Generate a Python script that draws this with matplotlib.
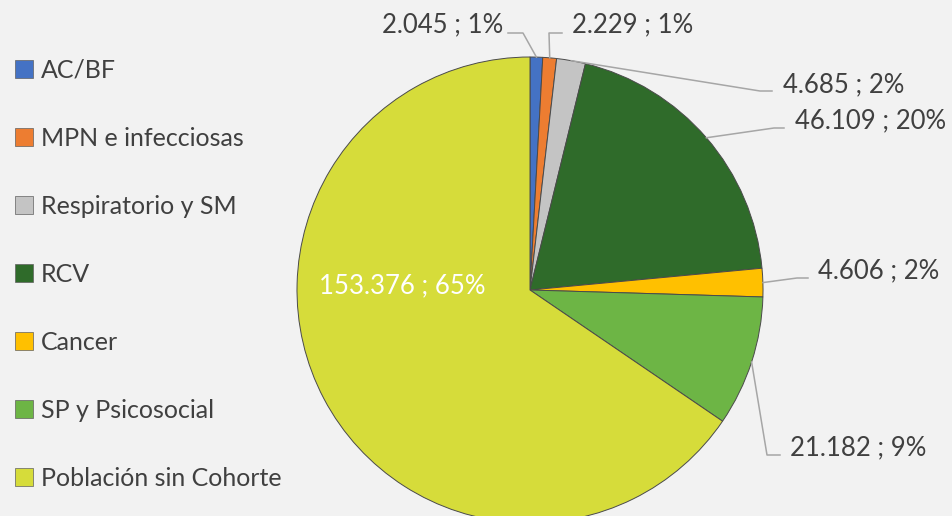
import numpy as np
import matplotlib
matplotlib.use('Agg')
import matplotlib.pyplot as plt
from matplotlib.lines import Line2D

categories = ['AC/BF', 'MPN e infecciosas', 'Respiratorio y SM', 'RCV',
              'Cancer', 'SP y Psicosocial', 'Población sin Cohorte']
values = [2045, 2229, 4685, 46109, 4606, 21182, 153376]
percent_labels = ['1%', '1%', '2%', '20%', '2%', '9%', '65%']
colors = ['#4472C4', '#ED7D31', '#C4C4C4', '#2F6B2A',
          '#FFC000', '#6DB545', '#D6DC3A']

W, H = 953, 516
BG = '#F2F2F2'
TXT = '#404040'
plt.rcParams['font.family'] = ['Lato', 'DejaVu Sans']


def fmt(v):
    return f'{v:,}'.replace(',', '.')


fig = plt.figure(figsize=(W / 100, H / 100), dpi=100, facecolor=BG)
ax = fig.add_axes([0, 0, 1, 1])

cx, cy, r = 530, H - 290, 233
wedges, _ = ax.pie(values, colors=colors, startangle=90, counterclock=False,
                   center=(cx, cy), radius=r, frame=True,
                   wedgeprops=dict(edgecolor='#4a4a4a', linewidth=0.7))
ax.set_xlim(0, W)
ax.set_ylim(0, H)
ax.set_aspect('equal')
ax.axis('off')

# label text position (px, top-left origin) and leader elbow
label_pos = [(443, 25, 'center'), (572, 25, 'left'), (783, 85, 'left'),
             (795, 121, 'left'), (818, 271, 'left'), (790, 448, 'left'),
             (402, 286, 'center')]
elbows = [[(523, 33), (508, 33)], [(549, 33), (562, 33)],
          [(760, 91), (772, 91)], [(774, 128), (784, 128)],
          [(797, 278), (808, 278)], [(767, 455), (780, 455)], None]

FS = 18.5
for i, w in enumerate(wedges):
    text = f'{fmt(values[i])} ; {percent_labels[i]}'
    x, y, ha = label_pos[i]
    if elbows[i] is None:
        ax.text(x, H - y, text, color='white', fontsize=FS, ha=ha, va='center')
        continue
    ang = np.deg2rad((w.theta1 + w.theta2) / 2)
    px, py = cx + r * np.cos(ang), cy + r * np.sin(ang)
    xs = [px] + [e[0] for e in elbows[i]]
    ys = [py] + [H - e[1] for e in elbows[i]]
    ax.add_line(Line2D(xs, ys, color='#A6A6A6', linewidth=1.1))
    ax.text(x, H - y, text, color=TXT, fontsize=FS, ha=ha, va='center')

handles = [Line2D([], [], marker='s', linestyle='none', markersize=12.5,
                  markerfacecolor=c, markeredgecolor='#606060', markeredgewidth=0.5)
           for c in colors]
leg = fig.legend(handles, categories, loc='upper left', bbox_to_anchor=(0.006, 0.906),
                 frameon=False, fontsize=18, labelspacing=1.8, handlelength=0.7,
                 handletextpad=0.3, borderaxespad=0)
for t in leg.get_texts():
    t.set_color(TXT)

fig.savefig('out.png', dpi=100, facecolor=BG)
